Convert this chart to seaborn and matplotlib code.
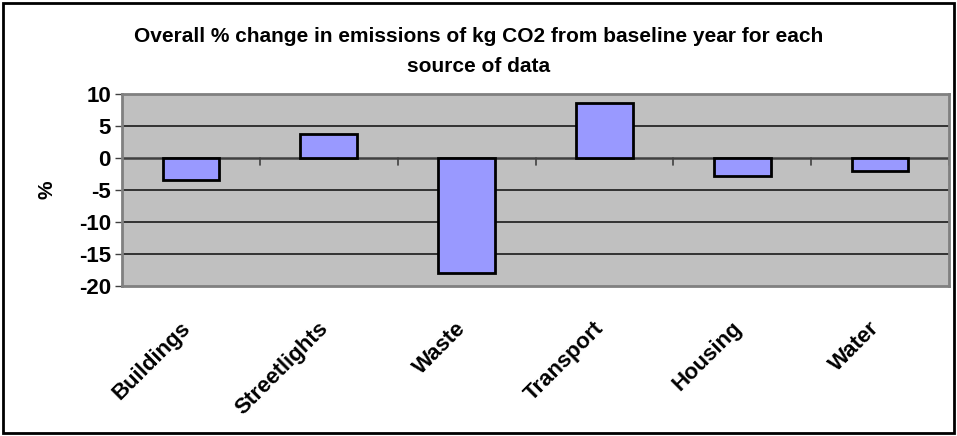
import matplotlib
matplotlib.use("Agg")
import matplotlib.pyplot as plt
import seaborn as sns
import pandas as pd
from matplotlib.patches import Rectangle

categories = ["Buildings", "Streetlights", "Waste", "Transport", "Housing", "Water"]
values = [-3.4, 3.8, -17.9, 8.6, -2.8, -2.1]
yticks = [-20, -15, -10, -5, 0, 5, 10]

df = pd.DataFrame({"source": categories, "pct": values})

sns.set_theme(style="white")
plt.rcParams["font.family"] = ["Liberation Sans", "DejaVu Sans"]
plt.rcParams["text.color"] = "black"

fig = plt.figure(figsize=(9.57, 4.36), dpi=100)
ax = fig.add_axes([122/957, 1-286/436, (949-122)/957, (286-94)/436])
ax.set_facecolor("#C0C0C0")

sns.barplot(data=df, x="source", y="pct", color="#9999FF", saturation=1,
            edgecolor="black", linewidth=2, width=0.41, ax=ax, zorder=3)

ax.set_ylim(-20, 10)
ax.set_xlim(-0.5, len(categories) - 0.5)
ax.set_yticks(yticks)
ax.set_yticklabels([str(t) for t in yticks], fontsize=16, fontweight="bold", color="black")
for t in yticks:
    if t not in (-20, 10):
        ax.axhline(t, color="#1a1a1a" if t != 0 else "#404040", lw=1.2 if t != 0 else 1.8, zorder=1)

# category boundary tick marks on the zero line
for i in range(len(categories) + 1):
    b = i - 0.5
    ax.plot([b, b], [0, -1.05], color="#404040", lw=1.2, zorder=2)

ax.set_xticks(range(len(categories)))
ax.set_xticklabels(categories, rotation=45, ha="right", va="baseline", rotation_mode="anchor",
                   fontsize=16, fontweight="bold", color="black")
ax.tick_params(axis="x", length=0, pad=31)
ax.tick_params(axis="y", length=5, width=1, color="#404040", direction="out", left=True, pad=3)
ax.set_xlabel("")
ax.set_ylabel("%", fontsize=15, fontweight="bold", color="black")
ax.yaxis.set_label_coords(-0.079, 0.5)

for s in ax.spines.values():
    s.set_color("#808080")
    s.set_linewidth(2)
    s.set_visible(True)

fig.text(0.5, 1-36/436, "Overall % change in emissions of kg CO2 from baseline year for each",
         ha="center", va="center", fontsize=15, fontweight="bold")
fig.text(0.5, 1-66/436, "source of data", ha="center", va="center",
         fontsize=15, fontweight="bold")

fig.patches.append(Rectangle((3/957, 3/436), 1-6/957, 1-6/436, transform=fig.transFigure,
                             fill=False, edgecolor="black", lw=2))

fig.savefig("out.png", dpi=100)
